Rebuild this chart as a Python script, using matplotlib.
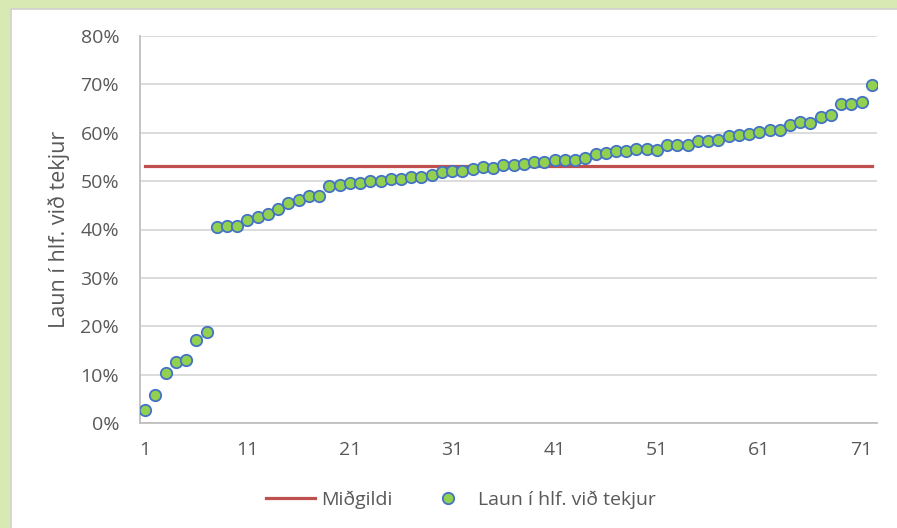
import matplotlib
matplotlib.use("Agg")
import matplotlib.pyplot as plt
from matplotlib.lines import Line2D
from matplotlib.patches import Rectangle
from matplotlib.ticker import PercentFormatter

# Data (share of wages relative to income, %)
laun = [
    2.6, 5.7, 10.3, 12.6, 13.0, 17.2, 18.8, 40.5, 40.8, 40.8,
    42.0, 42.5, 43.2, 44.3, 45.5, 46.2, 47.0, 47.0, 49.0, 49.3,
    49.7, 49.7, 50.1, 50.1, 50.5, 50.5, 50.8, 50.8, 51.3, 51.9,
    52.1, 52.1, 52.5, 52.9, 52.8, 53.3, 53.3, 53.6, 54.0, 54.0,
    54.3, 54.3, 54.3, 54.8, 55.6, 55.9, 56.3, 56.3, 56.7, 56.7,
    56.5, 57.4, 57.4, 57.4, 58.2, 58.2, 58.6, 59.4, 59.6, 59.8,
    60.2, 60.5, 60.5, 61.7, 62.2, 62.1, 63.2, 63.7, 66.0, 66.0,
    66.3, 69.8,
]
midgildi = 53.1
x_ticks = [1, 11, 21, 31, 41, 51, 61, 71]
y_ticks = [0, 10, 20, 30, 40, 50, 60, 70, 80]

TXT = "#595959"
FONT = "Open Sans"
FS = 14

plt.rcParams["font.family"] = [FONT, "DejaVu Sans"]

fig = plt.figure(figsize=(8.97, 5.28), dpi=100)
fig.patch.set_facecolor("#d8e9b3")
# white chart panel
fig.patches.append(Rectangle((11 / 897, -0.01), 1.0, 1 - 9 / 528 + 0.01,
                             transform=fig.transFigure, facecolor="white",
                             edgecolor="#d0d0d0", linewidth=1.2, zorder=-5))

ax = fig.add_axes([140 / 897, 1 - 423 / 528, (877 - 140) / 897, (423 - 36) / 528])
ax.set_zorder(2)
ax.set_facecolor("white")

xs = list(range(1, len(laun) + 1))
ax.plot(xs, [midgildi] * len(xs), color="#c0504d", linewidth=2.3, zorder=3)
ax.plot(xs, laun, linestyle="none", marker="o", markersize=8.2,
        markerfacecolor="#92d050", markeredgecolor="#4472c4",
        markeredgewidth=1.3, zorder=4)

ax.set_xlim(0.5, len(laun) + 0.5)
ax.set_ylim(0, 80)
ax.set_xticks(x_ticks)
ax.set_yticks(y_ticks)
ax.yaxis.set_major_formatter(PercentFormatter(decimals=0))
ax.grid(axis="y", color="#d9d9d9", linewidth=1.3)
ax.set_axisbelow(True)
ax.tick_params(axis="both", length=0, labelsize=FS, colors=TXT)
ax.tick_params(axis="y", pad=15)
ax.tick_params(axis="x", pad=13)
for s in ["top", "right"]:
    ax.spines[s].set_visible(False)
for s in ["left", "bottom"]:
    ax.spines[s].set_color("#bfbfbf")
    ax.spines[s].set_linewidth(1.3)

fig.text(59 / 897, 1 - 229 / 528, "Laun í hlf. við tekjur", rotation=90,
         ha="center", va="center", fontsize=15.5, color=TXT)

handles = [
    Line2D([], [], color="#c0504d", linewidth=2.3),
    Line2D([], [], linestyle="none", marker="o", markersize=8.2,
           markerfacecolor="#92d050", markeredgecolor="#4472c4",
           markeredgewidth=1.3),
]
leg = fig.legend(handles, ["Miðgildi", "Laun í hlf. við tekjur"],
                 loc="center", bbox_to_anchor=(461 / 897, 1 - 500 / 528),
                 ncol=2, frameon=False, fontsize=FS, handlelength=2.5,
                 handletextpad=0.3, columnspacing=1.6)
for t in leg.get_texts():
    t.set_color(TXT)

fig.savefig("out.png", dpi=100, facecolor=fig.get_facecolor())
